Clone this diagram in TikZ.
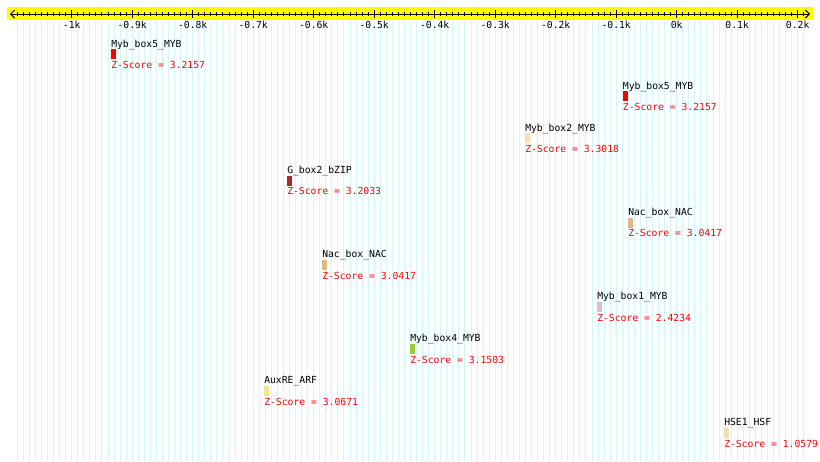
\documentclass[tikz,border=0pt]{standalone}
\usepackage{fontspec}
\setmonofont{DejaVu Sans Mono}
\usepackage{xcolor}
\usetikzlibrary{arrows.meta,positioning}
\definecolor{axisbg}{HTML}{FFFF00}
\definecolor{gridcol}{HTML}{D2F7FA}
\definecolor{zred}{HTML}{FF0000}
\definecolor{cmybred}{HTML}{FF0000}
\definecolor{cpeach}{HTML}{FFDEAD}
\definecolor{cbrown}{HTML}{A52A2A}
\definecolor{ctan}{HTML}{DEB887}
\definecolor{cthistle}{HTML}{D8BFD8}
\definecolor{cgreen}{HTML}{9ACD32}
\definecolor{ckhaki}{HTML}{F0E68C}
\definecolor{cwheat}{HTML}{F5DEB3}
\tikzset{
  lbl/.style     = {font=\ttfamily\fontsize{7.3}{9}\selectfont, inner sep=0pt, anchor=base west},
  zlbl/.style    = {lbl, text=zred},
  axlbl/.style   = {font=\ttfamily\fontsize{7.3}{9}\selectfont, inner sep=0pt, anchor=base},
  sitebar/.style = {draw=none, inner sep=0pt, minimum width=3.75pt, minimum height=7.5pt, anchor=north west},
  gridln/.style  = {draw=gridcol, line width=0.75pt},
  axln/.style    = {line width=0.75pt, {Straight Barb[length=3pt,width=6pt]}-{Straight Barb[length=3pt,width=6pt]}},
  axtk/.style    = {line width=0.75pt},
}

\begin{document}
\begin{tikzpicture}[x=0.75pt,y=-0.75pt]
  \useasboundingbox (0,0) rectangle (820,461);
  \fill[white] (0,0) rectangle (820,461);
  % background grid
  \foreach \k in {-109,...,21}
    \draw[gridln] ({676.7+6.05*\k},21) -- ({676.7+6.05*\k},461);
  % axis
  \fill[axisbg] (7,7) rectangle (813,20);
  \coordinate (axL) at (10,14);
  \coordinate (axR) at (810,14);
  \draw[axln] (axL) -- (axR);
  \foreach \k in {-109,...,21}
    \draw[axtk] ({676.7+6.05*\k},12) -- ({676.7+6.05*\k},16);
  \foreach \k/\t in {-100/-1k,-90/-0.9k,-80/-0.8k,-70/-0.7k,-60/-0.6k,-50/-0.5k,-40/-0.4k,
                     -30/-0.3k,-20/-0.2k,-10/-0.1k,0/0k,10/0.1k,20/0.2k}{
    \draw[axtk] ({676.7+6.05*\k},10) -- ({676.7+6.05*\k},18);
    \node[axlbl] (tk\k) at ({676.7+6.05*\k},28.5) {\t};
  }
  % motifs
  \node[lbl] (m1) at (111,47) {Myb\_box5\_MYB};
  \node[sitebar, fill=cmybred] (m1bar) at (111,49) {};
  \node[zlbl] (m1z) at (111,68.5) {Z-Score = 3.2157};

  \node[lbl] (m2) at (622.7,89.1) {Myb\_box5\_MYB};
  \node[sitebar, fill=cmybred] (m2bar) at (622.7,91.1) {};
  \node[zlbl] (m2z) at (622.7,110.6) {Z-Score = 3.2157};

  \node[lbl] (m3) at (525,131.2) {Myb\_box2\_MYB};
  \node[sitebar, fill=cpeach] (m3bar) at (525,133.2) {};
  \node[zlbl] (m3z) at (525,152.7) {Z-Score = 3.3018};

  \node[lbl] (m4) at (287,173.3) {G\_box2\_bZIP};
  \node[sitebar, fill=cbrown] (m4bar) at (287,175.3) {};
  \node[zlbl] (m4z) at (287,194.8) {Z-Score = 3.2033};

  \node[lbl] (m5) at (628,215.4) {Nac\_box\_NAC};
  \node[sitebar, fill=ctan] (m5bar) at (628,217.4) {};
  \node[zlbl] (m5z) at (628,236.9) {Z-Score = 3.0417};

  \node[lbl] (m6) at (322,257.5) {Nac\_box\_NAC};
  \node[sitebar, fill=ctan] (m6bar) at (322,259.5) {};
  \node[zlbl] (m6z) at (322,279) {Z-Score = 3.0417};

  \node[lbl] (m7) at (597,299.6) {Myb\_box1\_MYB};
  \node[sitebar, fill=cthistle] (m7bar) at (597,301.6) {};
  \node[zlbl] (m7z) at (597,321.1) {Z-Score = 2.4234};

  \node[lbl] (m8) at (410,341.7) {Myb\_box4\_MYB};
  \node[sitebar, fill=cgreen] (m8bar) at (410,343.7) {};
  \node[zlbl] (m8z) at (410,363.2) {Z-Score = 3.1503};

  \node[lbl] (m9) at (264,383.8) {AuxRE\_ARF};
  \node[sitebar, fill=ckhaki] (m9bar) at (264,385.8) {};
  \node[zlbl] (m9z) at (264,405.3) {Z-Score = 3.0671};

  \node[lbl] (m10) at (724,425.9) {HSE1\_HSF};
  \node[sitebar, fill=cwheat] (m10bar) at (724,427.9) {};
  \node[zlbl] (m10z) at (724,447.4) {Z-Score = 1.0579};
\end{tikzpicture}
\end{document}
